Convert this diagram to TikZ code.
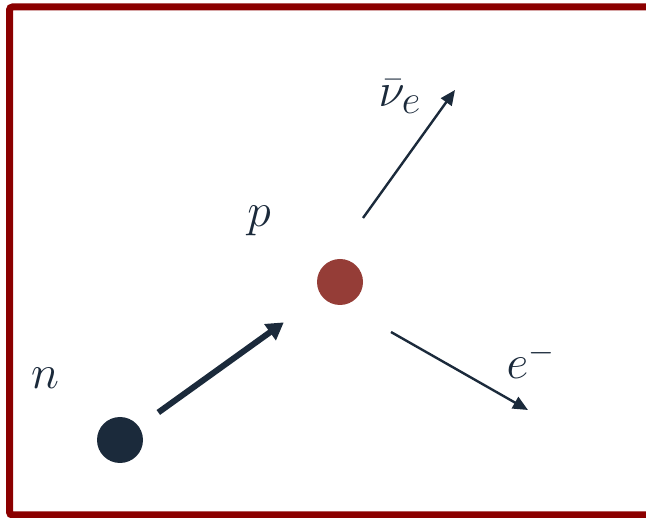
\documentclass[tikz,border=0pt]{standalone}
\usepackage{amsmath,amssymb}
\usepackage{tikz}
\usetikzlibrary{arrows.meta,calc,positioning}
\definecolor{frameRed}{HTML}{8B0000}
\definecolor{partNavy}{HTML}{1B2A3B}
\definecolor{partRed}{HTML}{953D37}

\begin{document}
\begin{tikzpicture}[
    x=1pt,y=-1pt,>={Triangle[length=15pt,width=13pt]},
    particle/.style={circle,inner sep=0pt,minimum size=46pt},
    lbl/.style={text=partNavy,font=\huge,scale=2.3,inner sep=0pt},
    track/.style={draw=partNavy,line width=2.4pt},
    boldtrack/.style={draw=partNavy,line width=6pt,-{Triangle[length=17pt,width=19pt]}}]
  \useasboundingbox (0,0) rectangle (646,518);
  \draw[frameRed,line width=7pt,rounded corners=3pt] (9.5,7) rectangle (670,515);
  \node[particle,fill=partNavy] (neut) at (120,440) {};
  \node[particle,fill=partRed] (prot) at (340,282) {};
  \coordinate (nuS) at (363,218);
  \coordinate (nuE) at (455,90);
  \coordinate (elS) at (391,332);
  \coordinate (elE) at (528,410);
  \draw[boldtrack,shorten <=24pt,shorten >=46pt] (neut) -- (prot);
  \draw[track,->] (nuS) -- (nuE);
  \draw[track,->] (elS) -- (elE);
  % labels
  \node[lbl] (nlab) at (45,378) {$n$};
  \node[lbl] (plab) at (259,221) {$p$};
  \node[lbl] (nulab) at (400,97) {$\bar{\nu}_{\scalebox{0.85}{$e$}}$};
  \node[lbl] (elab) at (531,360) {$e^-$};
\end{tikzpicture}
\end{document}
